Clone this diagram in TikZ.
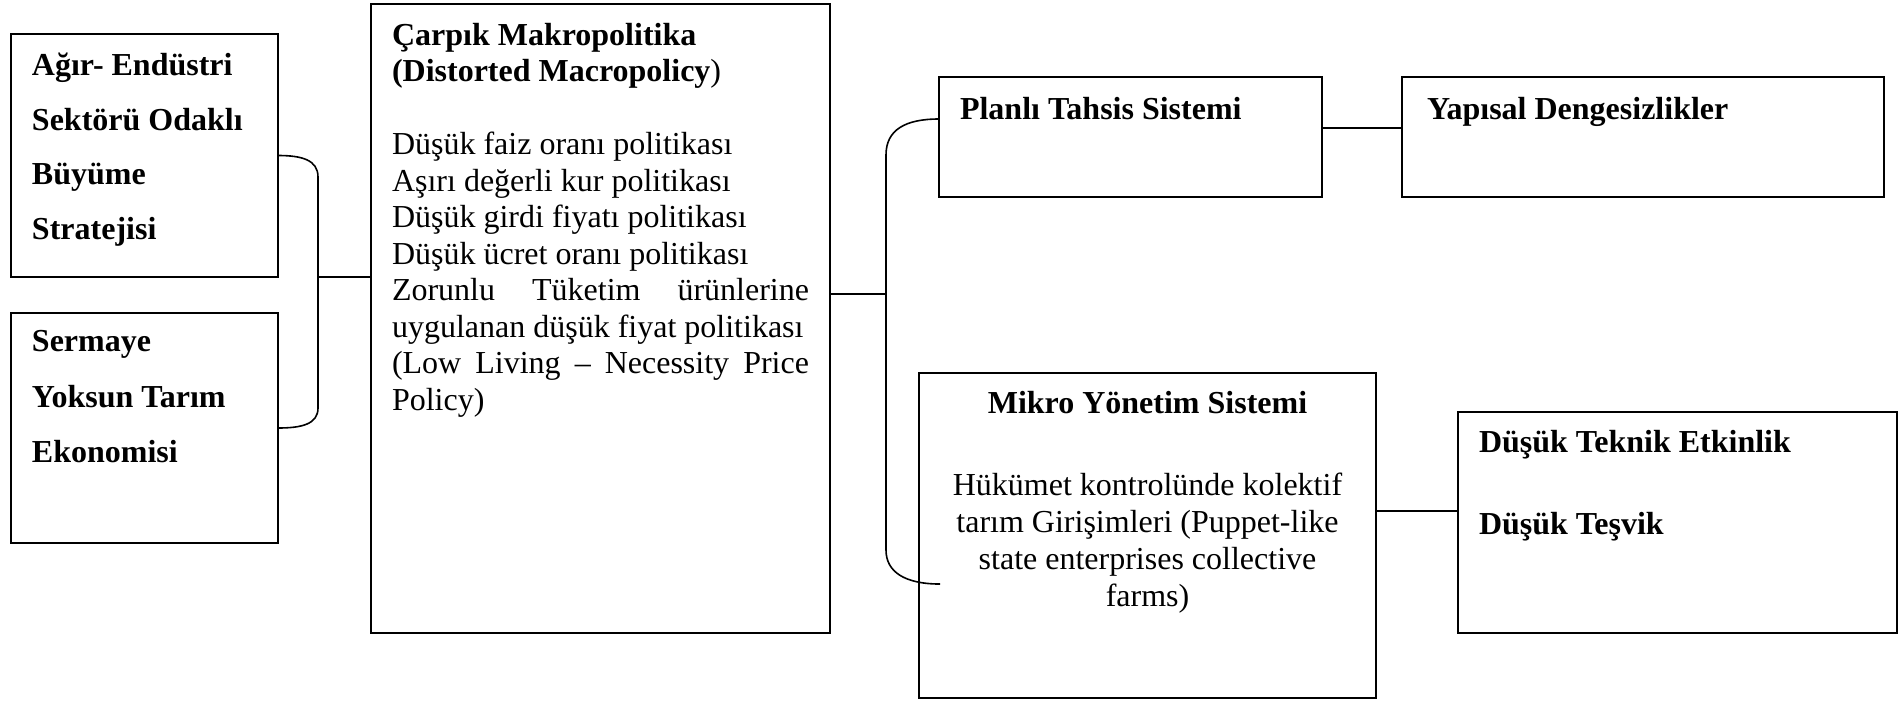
\documentclass[tikz,border=0pt]{standalone}
\usepackage{fontspec}
\setmainfont{Liberation Serif}
\newcommand{\kutuyazi}[3]{\parbox[c][#2][t]{#1}{#3}}

\begin{document}
\begin{tikzpicture}[x=0.375pt, y=-0.375pt,
    kutu/.style={draw, line width=0.6pt, anchor=north west, inner xsep=7.875pt, inner ysep=0pt, outer sep=0pt,
        font=\fontsize{12pt}{13.8pt}\selectfont},
    baglanti/.style={line width=0.6pt}]
    \useasboundingbox (0,0) rectangle (1898,700);
    % sol kutular
    \node[kutu] (agir) at (11,34) {\kutuyazi{84.375pt}{91.125pt}{\raggedright\bfseries\baselineskip=20.6pt
        \rule{0pt}{15.4pt}Ağır- Endüstri\\ Sektörü Odaklı\\ Büyüme\\ Stratejisi}};
    \node[kutu] (sermaye) at (11,313) {\kutuyazi{84.375pt}{86.25pt}{\raggedright\bfseries\baselineskip=20.8pt
        \rule{0pt}{14.6pt}Sermaye\\ Yoksun Tarım\\ Ekonomisi}};
    % orta kutu
    \node[kutu] (makro) at (371,4) {\kutuyazi{156.375pt}{235.875pt}{\raggedright\baselineskip=13.7pt
        \rule{0pt}{15.4pt}\textbf{Çarpık Makropolitika}\\
        \textbf{(Distorted Macropolicy})\\[13.7pt]
        Düşük faiz oranı politikası\\
        Aşırı değerli kur politikası\\
        Düşük girdi fiyatı politikası\\
        Düşük ücret oranı politikası\\
        Zorunlu\hfill Tüketim\hfill ürünlerine\\
        uygulanan düşük fiyat politikası\\
        (Low\hfill Living\hfill –\hfill Necessity\hfill Price\\
        Policy)}};
    % sag kutular
    \node[kutu] (planli) at (939,77) {\kutuyazi{127.875pt}{45pt}{\raggedright\bfseries
        \rule{0pt}{16.1pt}Planlı Tahsis Sistemi}};
    \node[kutu, inner xsep=9.375pt] (yapisal) at (1402,77) {\kutuyazi{162pt}{45pt}{\raggedright\bfseries
        \rule{0pt}{15.75pt}Yapısal Dengesizlikler}};
    \node[kutu] (mikro) at (919,373) {\kutuyazi{155.625pt}{121.875pt}{\centering\baselineskip=13.9pt
        \rule{0pt}{15pt}\textbf{Mikro Yönetim Sistemi}\\[16.9pt]
        Hükümet kontrolünde kolektif\\
        tarım Girişimleri (Puppet-like\\
        state enterprises collective\\
        farms)}};
    \node[kutu] (dusuk) at (1458,412) {\kutuyazi{148.875pt}{82.875pt}{\raggedright\bfseries\baselineskip=13.8pt
        \rule{0pt}{15pt}Düşük Teknik Etkinlik\\[17.3pt]
        Düşük Teşvik}};
    % baglantilar
    \coordinate (solbirlesim) at (318,277);
    \coordinate (sagbirlesim) at (886,294);
    \draw[baglanti] (agir.east) .. controls (302,155.5) and (318,160) .. (318,177)
        -- (318,408) .. controls (318,424) and (302,428) .. (sermaye.east);
    \draw[baglanti] (solbirlesim) -- (solbirlesim -| makro.west);
    \draw[baglanti] (makro.east |- sagbirlesim) -- (sagbirlesim);
    \draw[baglanti] ([yshift=6.75pt]planli.west) .. controls (905,119) and (886,130) .. (886,155)
        -- (886,550) .. controls (886,572) and (905,584) .. ([xshift=7.875pt,yshift=-18.2pt]mikro.west);
    \draw[baglanti] ([yshift=3.375pt]planli.east) -- ([yshift=3.375pt]yapisal.west);
    \draw[baglanti] ([yshift=9.19pt]mikro.east) -- ([yshift=4.31pt]dusuk.west);
\end{tikzpicture}
\end{document}
